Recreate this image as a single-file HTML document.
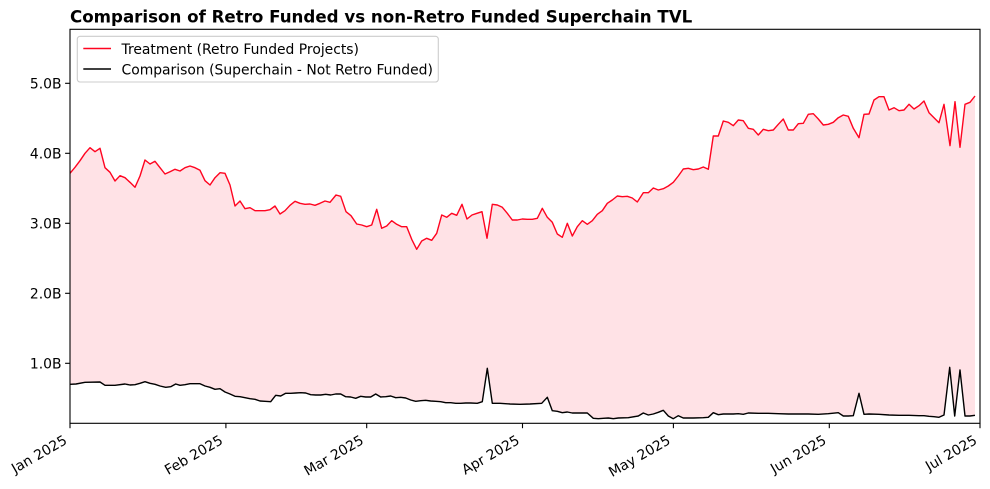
<!DOCTYPE html>
<html>
<head>
<meta charset="utf-8">
<style>
html,body{margin:0;padding:0;background:#fff;}
svg{display:block;}
text{font-family:"DejaVu Sans","Liberation Sans",sans-serif;fill:#000;}
</style>
</head>
<body>
<svg width="990" height="489" viewBox="0 0 990 489" xmlns="http://www.w3.org/2000/svg">
<rect x="0" y="0" width="990" height="489" fill="#fff"/>
<text x="70" y="22.5" font-size="16.67" font-weight="bold">Comparison of Retro Funded vs non-Retro Funded Superchain TVL</text>

<!-- fill -->
<polygon fill="#FFE2E6" stroke="none" points="70,173.3 75,167.3 80,160.7 85,153.3 90,147.7 95,151.7 100,148.3 105,167.7 110,172.3 115,181 120,175.7 125,177.7 130,182.3 135,187.3 140,176 145,160 150,164 155,161.3 160,167.7 165,174 170,171.7 175,169.3 180,171 185,167.7 190,166 195,167.7 200,170.3 205,180.7 210,185 215,177.7 220,172.7 225,173.3 230,185 235,206 240,201 245,208.7 250,207.7 255,210.7 260,210.7 265,210.7 270,209.7 275,206 280,214 285,210.7 290,205.3 295,201.3 300,203.3 305,204.3 310,204 315,205.3 320,203.3 325,201 330,202.3 336,195 340.7,196.3 346,211.7 351,215.7 356.7,224 361.7,225 366.7,226.7 371.7,225 376.7,209.3 381.7,228.3 386.7,226 391.7,220.7 396.7,224.3 401.7,226.7 406.7,226.7 411.7,239.3 416.7,249.3 421.7,241 426.7,238.3 431.7,240.3 436.7,233.3 441.7,215 446.7,217.3 451.7,213.3 456.7,215.3 462,204.3 467,219 472,215 477,213.3 482,211.7 487,238.3 492.3,204.3 497.3,205 502.3,207.3 507.3,213.3 512.3,220 517.3,220 522.3,219 527.3,219.3 532.3,219.3 537.3,218.3 542.3,208.3 547.3,217.3 552.3,222.3 557.3,234 562.3,237.3 567.3,223.3 572.3,236 577.3,226.7 582.3,220.7 587.3,224.3 592.3,220.7 597.3,214.3 602.3,210.7 607.3,203.3 612.3,200 617.3,196 622.3,196.7 627.3,196.3 632.3,198 637.3,202 643.3,192.7 648.3,192.7 653.3,188 658.3,190 663.3,188.7 668.3,186 673.3,182.3 678.3,176 683.3,169 688.3,168.3 693.3,169.7 698.3,169 703.3,167 708.3,169.3 713.3,136 718.3,136 723.3,121 728.3,122.3 733.3,125.7 738.3,120 743.3,120.7 748.3,128.3 753.3,129.3 758.3,135 763.3,129.3 768.3,130.7 773.3,130 778.3,124.3 783.3,119 788.3,130 793.3,130 798.3,123.7 803.3,123.3 808.3,114.3 813.3,113.7 818.3,119 823.3,125 828.3,124.3 833.3,122.3 838.3,117.7 843.3,115 848.3,116.3 853.3,128.3 859,137.7 864,114.3 869,114 874,100 879,96.7 884,96.7 889,110 894,107.7 899,110.7 904,110 909,104.3 914,109 919,105.7 924,101 929,112.7 934,117.7 939,122.7 944,104.3 950,145.7 955,101.7 960,147.3 965,104.3 970,102.3 975,96 975,415.3 970,416 965,416 960,370 954.7,416 949.7,367.3 944,415 939,417.3 934,416.7 929,416.3 924,415.7 919,415.7 909,415.3 899,415.3 889,415 879,414.3 869,414 864,414.3 859,393.3 853.3,415.7 848.3,416 843.3,416 838.3,412.7 828.3,413.7 818.3,414.3 808.3,414 798.3,414 788.3,414 778.3,413.7 768.3,413.3 758.3,413.3 748.3,413 743.3,414.3 738.3,413.7 733.3,414 728.3,414 723.3,414 718.3,414.7 713.3,412.7 708.3,417.3 703.3,417.7 693.3,418 683.3,418 678.3,415.7 673.3,418.7 668.3,416 663.3,410.3 658.3,412.3 653.3,414 648.3,415 643.3,413 638.3,416 628.3,417.7 618.3,418 613.3,418.7 608.3,418 603.3,418.3 598.3,418.7 593.3,418.3 587.3,413 582.3,413 572.3,413 567.3,412 562.3,412.7 557.3,411.3 552.3,410.7 547.3,397.3 541.7,403.3 530,404 520,404.3 510,404 500,403.3 492.3,403.3 487.3,368.3 482.3,401.7 477.3,403.3 470.7,403 465.7,403 460.7,403.3 455.7,403.3 450.7,402.7 445.7,402.7 440.7,401.7 435.7,401.3 430.7,401 425.7,400.3 420.7,400.7 415.7,401.3 410.7,400 405.7,398 400.7,397.3 395.7,397.7 390.7,396 385.7,396.7 380.7,397 375.7,394 370.7,397 365.7,397 360.7,396.3 355.7,398.3 350.7,397 345.7,396.7 340.7,394 335.7,394 330.7,395 325.7,394.3 320.7,395 315.7,395 310.7,394.7 305.7,393 300.7,392.7 295.7,393 290.7,393.3 285.7,393.3 280.7,396 275.7,395.3 270.7,401.7 265,401.3 260,401 255,399.3 250,398.7 245,397.7 240,396.7 235,396.3 230,394 225,392 220,388.7 215,389.3 210,387.3 205,386 200,383.7 190,383.7 185,384.7 180,385.3 175.7,384 170.7,386.7 165.7,387.3 160,386 155,384.3 150,383.3 145,381.7 140,383.3 135,384.7 130,385 125,384 115,385.3 105,385.3 100,382 85,382.3 76,384 70,384.3"/>

<!-- red line -->
<polyline fill="none" stroke="#FF0420" stroke-width="1.4" stroke-linejoin="round" points="70,173.3 75,167.3 80,160.7 85,153.3 90,147.7 95,151.7 100,148.3 105,167.7 110,172.3 115,181 120,175.7 125,177.7 130,182.3 135,187.3 140,176 145,160 150,164 155,161.3 160,167.7 165,174 170,171.7 175,169.3 180,171 185,167.7 190,166 195,167.7 200,170.3 205,180.7 210,185 215,177.7 220,172.7 225,173.3 230,185 235,206 240,201 245,208.7 250,207.7 255,210.7 260,210.7 265,210.7 270,209.7 275,206 280,214 285,210.7 290,205.3 295,201.3 300,203.3 305,204.3 310,204 315,205.3 320,203.3 325,201 330,202.3 336,195 340.7,196.3 346,211.7 351,215.7 356.7,224 361.7,225 366.7,226.7 371.7,225 376.7,209.3 381.7,228.3 386.7,226 391.7,220.7 396.7,224.3 401.7,226.7 406.7,226.7 411.7,239.3 416.7,249.3 421.7,241 426.7,238.3 431.7,240.3 436.7,233.3 441.7,215 446.7,217.3 451.7,213.3 456.7,215.3 462,204.3 467,219 472,215 477,213.3 482,211.7 487,238.3 492.3,204.3 497.3,205 502.3,207.3 507.3,213.3 512.3,220 517.3,220 522.3,219 527.3,219.3 532.3,219.3 537.3,218.3 542.3,208.3 547.3,217.3 552.3,222.3 557.3,234 562.3,237.3 567.3,223.3 572.3,236 577.3,226.7 582.3,220.7 587.3,224.3 592.3,220.7 597.3,214.3 602.3,210.7 607.3,203.3 612.3,200 617.3,196 622.3,196.7 627.3,196.3 632.3,198 637.3,202 643.3,192.7 648.3,192.7 653.3,188 658.3,190 663.3,188.7 668.3,186 673.3,182.3 678.3,176 683.3,169 688.3,168.3 693.3,169.7 698.3,169 703.3,167 708.3,169.3 713.3,136 718.3,136 723.3,121 728.3,122.3 733.3,125.7 738.3,120 743.3,120.7 748.3,128.3 753.3,129.3 758.3,135 763.3,129.3 768.3,130.7 773.3,130 778.3,124.3 783.3,119 788.3,130 793.3,130 798.3,123.7 803.3,123.3 808.3,114.3 813.3,113.7 818.3,119 823.3,125 828.3,124.3 833.3,122.3 838.3,117.7 843.3,115 848.3,116.3 853.3,128.3 859,137.7 864,114.3 869,114 874,100 879,96.7 884,96.7 889,110 894,107.7 899,110.7 904,110 909,104.3 914,109 919,105.7 924,101 929,112.7 934,117.7 939,122.7 944,104.3 950,145.7 955,101.7 960,147.3 965,104.3 970,102.3 975,96"/>

<!-- black line -->
<polyline fill="none" stroke="#000" stroke-width="1.4" stroke-linejoin="round" points="70,384.3 76,384 85,382.3 100,382 105,385.3 115,385.3 125,384 130,385 135,384.7 140,383.3 145,381.7 150,383.3 155,384.3 160,386 165.7,387.3 170.7,386.7 175.7,384 180,385.3 185,384.7 190,383.7 200,383.7 205,386 210,387.3 215,389.3 220,388.7 225,392 230,394 235,396.3 240,396.7 245,397.7 250,398.7 255,399.3 260,401 265,401.3 270.7,401.7 275.7,395.3 280.7,396 285.7,393.3 290.7,393.3 295.7,393 300.7,392.7 305.7,393 310.7,394.7 315.7,395 320.7,395 325.7,394.3 330.7,395 335.7,394 340.7,394 345.7,396.7 350.7,397 355.7,398.3 360.7,396.3 365.7,397 370.7,397 375.7,394 380.7,397 385.7,396.7 390.7,396 395.7,397.7 400.7,397.3 405.7,398 410.7,400 415.7,401.3 420.7,400.7 425.7,400.3 430.7,401 435.7,401.3 440.7,401.7 445.7,402.7 450.7,402.7 455.7,403.3 460.7,403.3 465.7,403 470.7,403 477.3,403.3 482.3,401.7 487.3,368.3 492.3,403.3 500,403.3 510,404 520,404.3 530,404 541.7,403.3 547.3,397.3 552.3,410.7 557.3,411.3 562.3,412.7 567.3,412 572.3,413 582.3,413 587.3,413 593.3,418.3 598.3,418.7 603.3,418.3 608.3,418 613.3,418.7 618.3,418 628.3,417.7 638.3,416 643.3,413 648.3,415 653.3,414 658.3,412.3 663.3,410.3 668.3,416 673.3,418.7 678.3,415.7 683.3,418 693.3,418 703.3,417.7 708.3,417.3 713.3,412.7 718.3,414.7 723.3,414 728.3,414 733.3,414 738.3,413.7 743.3,414.3 748.3,413 758.3,413.3 768.3,413.3 778.3,413.7 788.3,414 798.3,414 808.3,414 818.3,414.3 828.3,413.7 838.3,412.7 843.3,416 848.3,416 853.3,415.7 859,393.3 864,414.3 869,414 879,414.3 889,415 899,415.3 909,415.3 919,415.7 924,415.7 929,416.3 934,416.7 939,417.3 944,415 949.7,367.3 954.7,416 960,370 965,416 970,416 975,415.3"/>

<!-- axes frame -->
<rect x="70" y="29.3" width="910" height="394" fill="none" stroke="#000" stroke-width="1.1"/>

<!-- y ticks -->
<g stroke="#000" stroke-width="1.1">
<line x1="65.1" y1="83.3" x2="70" y2="83.3"/>
<line x1="65.1" y1="153.3" x2="70" y2="153.3"/>
<line x1="65.1" y1="223.3" x2="70" y2="223.3"/>
<line x1="65.1" y1="293.3" x2="70" y2="293.3"/>
<line x1="65.1" y1="363.3" x2="70" y2="363.3"/>
</g>
<g font-size="13.9" text-anchor="end">
<text x="61.5" y="88.5">5.0B</text>
<text x="61.5" y="158.5">4.0B</text>
<text x="61.5" y="228.5">3.0B</text>
<text x="61.5" y="298.5">2.0B</text>
<text x="61.5" y="368.5">1.0B</text>
</g>

<!-- x ticks -->
<g stroke="#000" stroke-width="1.1">
<line x1="70" y1="423.3" x2="70" y2="428.2"/>
<line x1="225.9" y1="423.3" x2="225.9" y2="428.2"/>
<line x1="366.7" y1="423.3" x2="366.7" y2="428.2"/>
<line x1="522.5" y1="423.3" x2="522.5" y2="428.2"/>
<line x1="673.4" y1="423.3" x2="673.4" y2="428.2"/>
<line x1="829.3" y1="423.3" x2="829.3" y2="428.2"/>
<line x1="980" y1="423.3" x2="980" y2="428.2"/>
</g>
<g font-size="13.9" text-anchor="end">
<text transform="translate(68,443) rotate(-30)">Jan 2025</text>
<text transform="translate(223.9,443) rotate(-30)">Feb 2025</text>
<text transform="translate(364.7,443) rotate(-30)">Mar 2025</text>
<text transform="translate(520.5,443) rotate(-30)">Apr 2025</text>
<text transform="translate(671.4,443) rotate(-30)">May 2025</text>
<text transform="translate(827.3,443) rotate(-30)">Jun 2025</text>
<text transform="translate(978,443) rotate(-30)">Jul 2025</text>
</g>

<!-- legend -->
<rect x="77.3" y="36.3" width="361" height="45.7" rx="2.8" ry="2.8" fill="#fff" fill-opacity="0.8" stroke="#cccccc" stroke-width="1.1"/>
<line x1="83.3" y1="48.5" x2="111" y2="48.5" stroke="#FF0420" stroke-width="1.4"/>
<line x1="83.3" y1="69" x2="111" y2="69" stroke="#000" stroke-width="1.4"/>
<text x="121.5" y="54" font-size="13.9">Treatment (Retro Funded Projects)</text>
<text x="121.5" y="74.5" font-size="13.9">Comparison (Superchain - Not Retro Funded)</text>
</svg>
</body>
</html>
